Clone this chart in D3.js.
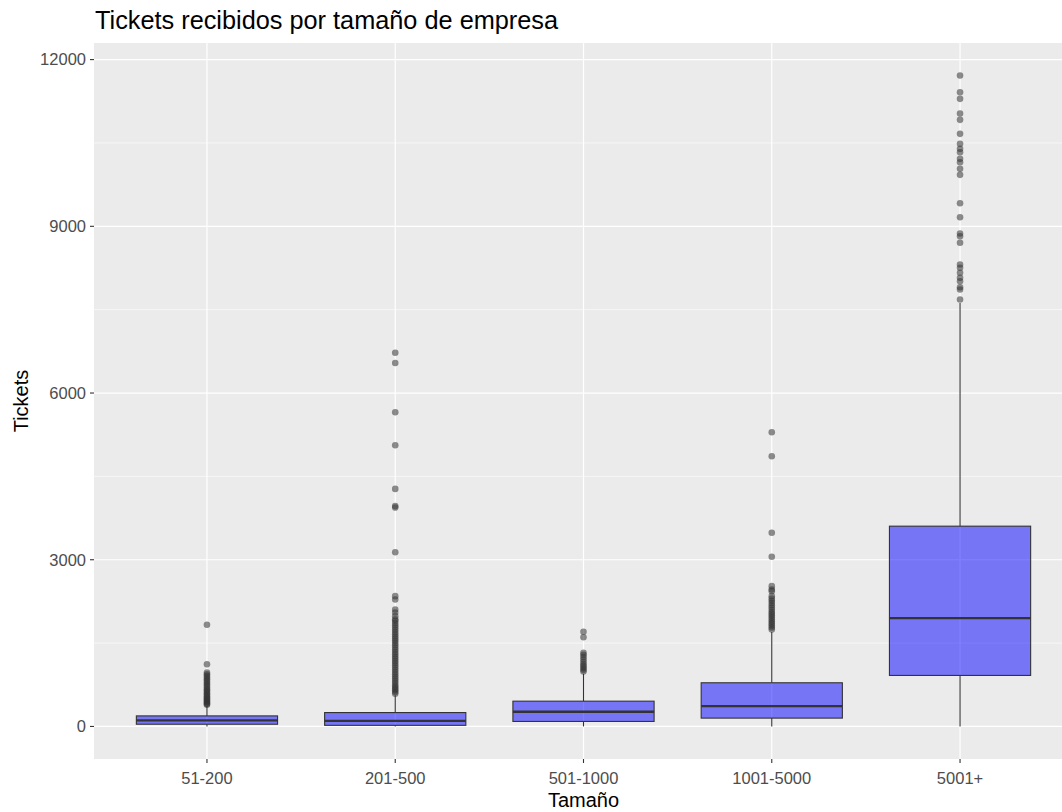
<!DOCTYPE html>
<html>
<head>
<meta charset="utf-8">
<script src="https://cdn.jsdelivr.net/npm/d3@7"></script>
<style>
  html, body { margin: 0; padding: 0; background: #ffffff; overflow: hidden; }
  svg { display: block; font-family: "Liberation Sans", Arial, sans-serif; }
</style>
</head>
<body>
<svg id="chart" width="1062" height="812"></svg>
<script>
// Company size groups
const categories = ["51-200", "201-500", "501-1000", "1001-5000", "5001+"];

// Box statistics per group (tickets)
const whiskerLow = [0, 0, 0, 0, 0];
const q1 = [40, 20, 90, 150, 918];
const median = [110, 100, 265, 366, 1949];
const q3 = [190, 250, 455, 786, 3604];
const whiskerHigh = [370, 560, 950, 1700, 7620];

// Outliers per group
const outliers51_200 = [390, 405, 420, 440, 460, 480, 500, 520, 545, 570, 595, 620, 645, 670, 700,
  730, 760, 790, 820, 850, 880, 910, 940, 970, 1120, 1830];
const outliers201_500 = [590, 620, 650, 680, 710, 740, 780, 820, 860, 900, 940, 980, 1020, 1060,
  1100, 1140, 1180, 1220, 1260, 1300, 1340, 1380, 1420, 1460, 1500, 1540, 1580, 1620, 1660, 1700,
  1740, 1780, 1820, 1860, 1900, 1930, 1985, 2050, 2105, 2285, 2345, 3135, 3940, 3965, 4275, 5060,
  5655, 6540, 6725];
const outliers501_1000 = [990, 1020, 1050, 1085, 1120, 1160, 1205, 1250, 1290, 1325, 1605, 1705];
const outliers1001_5000 = [1745, 1780, 1815, 1850, 1885, 1920, 1955, 1990, 2025, 2060, 2100, 2140,
  2180, 2220, 2260, 2300, 2345, 2435, 2465, 2525, 3053, 3485, 4863, 5295];
const outliers5001 = [7683, 7862, 7904, 8012, 8073, 8163, 8253, 8312, 8703, 8822, 8870, 9163, 9415,
  9926, 10034, 10153, 10214, 10333, 10394, 10484, 10664, 10916, 11029, 11294, 11413, 11713];
const outliers = [outliers51_200, outliers201_500, outliers501_1000, outliers1001_5000, outliers5001];

// Axis breaks
const yTicks = [0, 3000, 6000, 9000, 12000];
const yMinorTicks = [1500, 4500, 7500, 10500];

const title = "Tickets recibidos por tamaño de empresa";
const xTitle = "Tamaño";
const yTitle = "Tickets";

// Layout (the panel runs past the right edge of the canvas)
const panel = { left: 94, right: 1073, top: 43, bottom: 759 };

const svg = d3.select("#chart");

// Scales: y expanded 5% beyond the data range, x discrete with 0.6 step padding
const allVals = [].concat(...outliers, whiskerLow, whiskerHigh);
const lo = d3.min(allVals), hi = d3.max(allVals);
const pad = (hi - lo) * 0.05;
const y = d3.scaleLinear().domain([lo - pad, hi + pad]).range([panel.bottom, panel.top]);
const x = d3.scalePoint().domain(categories).range([panel.left, panel.right]).padding(0.6);
const boxW = x.step() * 0.75;

// Panel background
svg.append("rect")
  .attr("x", panel.left).attr("y", panel.top)
  .attr("width", panel.right - panel.left).attr("height", panel.bottom - panel.top)
  .attr("fill", "#EBEBEB");

// Grid lines
const grid = svg.append("g");
grid.selectAll("line.minor").data(yMinorTicks).join("line")
  .attr("x1", panel.left).attr("x2", panel.right)
  .attr("y1", d => y(d)).attr("y2", d => y(d))
  .attr("stroke", "#ffffff").attr("stroke-width", 0.6);
grid.selectAll("line.major").data(yTicks).join("line")
  .attr("x1", panel.left).attr("x2", panel.right)
  .attr("y1", d => y(d)).attr("y2", d => y(d))
  .attr("stroke", "#ffffff").attr("stroke-width", 1.2);
grid.selectAll("line.vmajor").data(categories).join("line")
  .attr("x1", d => x(d)).attr("x2", d => x(d))
  .attr("y1", panel.top).attr("y2", panel.bottom)
  .attr("stroke", "#ffffff").attr("stroke-width", 1.2);

// Boxplots
const boxes = svg.append("g");
categories.forEach((c, i) => {
  const cx = x(c);
  const g = boxes.append("g");
  // whiskers
  g.append("line").attr("x1", cx).attr("x2", cx)
    .attr("y1", y(q3[i])).attr("y2", y(whiskerHigh[i]))
    .attr("stroke", "#333333").attr("stroke-width", 1.1);
  g.append("line").attr("x1", cx).attr("x2", cx)
    .attr("y1", y(q1[i])).attr("y2", y(whiskerLow[i]))
    .attr("stroke", "#333333").attr("stroke-width", 1.1);
  // box
  g.append("rect")
    .attr("x", cx - boxW / 2).attr("width", boxW)
    .attr("y", y(q3[i])).attr("height", y(q1[i]) - y(q3[i]))
    .attr("fill", "#0000FF").attr("fill-opacity", 0.5)
    .attr("stroke", "#333333").attr("stroke-width", 1.1);
  // median
  g.append("line")
    .attr("x1", cx - boxW / 2).attr("x2", cx + boxW / 2)
    .attr("y1", y(median[i])).attr("y2", y(median[i]))
    .attr("stroke", "#333333").attr("stroke-width", 2.4);
  // outliers
  g.selectAll("circle").data(outliers[i]).join("circle")
    .attr("cx", cx).attr("cy", d => y(d)).attr("r", 3.3)
    .attr("fill", "#333333").attr("fill-opacity", 0.55);
});

// Y axis
const yAxis = svg.append("g");
yAxis.selectAll("line").data(yTicks).join("line")
  .attr("x1", panel.left - 4).attr("x2", panel.left)
  .attr("y1", d => y(d)).attr("y2", d => y(d))
  .attr("stroke", "#333333").attr("stroke-width", 1.1);
yAxis.selectAll("text").data(yTicks).join("text")
  .attr("x", panel.left - 8).attr("y", d => y(d))
  .attr("dy", "0.35em").attr("text-anchor", "end")
  .attr("font-size", 16.5).attr("fill", "#4D4D4D")
  .text(d => d);

// X axis
const xAxis = svg.append("g");
xAxis.selectAll("line").data(categories).join("line")
  .attr("x1", d => x(d)).attr("x2", d => x(d))
  .attr("y1", panel.bottom).attr("y2", panel.bottom + 4)
  .attr("stroke", "#333333").attr("stroke-width", 1.1);
xAxis.selectAll("text").data(categories).join("text")
  .attr("x", d => x(d)).attr("y", panel.bottom + 25)
  .attr("text-anchor", "middle")
  .attr("font-size", 16.5).attr("fill", "#4D4D4D")
  .text(d => d);

// Titles
svg.append("text")
  .attr("x", (panel.left + panel.right) / 2).attr("y", 807)
  .attr("text-anchor", "middle").attr("font-size", 20).attr("fill", "#000")
  .text(xTitle);
svg.append("text")
  .attr("transform", `translate(28, ${(panel.top + panel.bottom) / 2}) rotate(-90)`)
  .attr("text-anchor", "middle").attr("font-size", 20).attr("fill", "#000")
  .text(yTitle);
svg.append("text")
  .attr("x", panel.left + 1).attr("y", 29)
  .attr("font-size", 25.3).attr("fill", "#000")
  .text(title);
</script>
</body>
</html>
